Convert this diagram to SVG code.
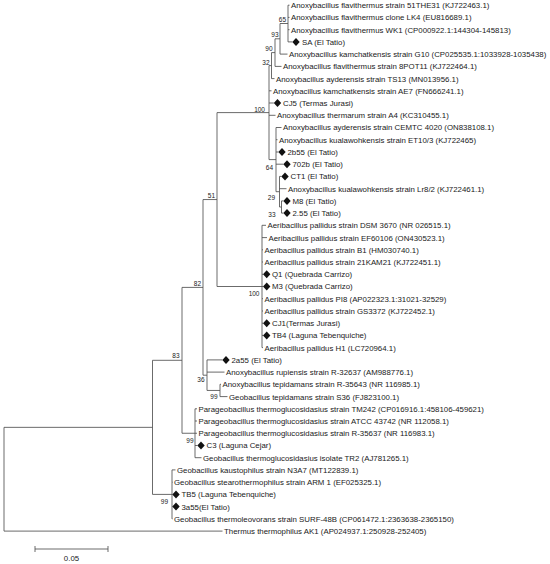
<svg xmlns="http://www.w3.org/2000/svg" width="550" height="564" viewBox="0 0 550 564">
<style>
text{font-family:"Liberation Sans",Arial,sans-serif;fill:#1a1a1a}
.t{font-size:7.85px}
.b{font-size:6.5px;text-anchor:end}
.br{fill:none;stroke:#505050;stroke-width:0.85}
.d{fill:#111}
</style>
<defs><path id="dm" d="M0,-4 L3.7,0 L0,4 L-3.7,0 Z"/></defs>
<rect width="550" height="564" fill="#fff"/>
<g id="branches" class="br">
<path d="M4,427.35V531.1M4,427.35H152.5M4,531.1H222.5"/>
<path d="M152.5,360.3V494.4M152.5,360.3H182M152.5,494.4H172"/>
<path d="M172,469.9V518.9M172,469.9H175.5M172,482.2H172.5M172,494.4H172.3M172,506.6H172.3M172,518.9H172.5"/>
<path d="M182,287.4V433.25M182,287.4H203M182,433.25H195"/>
<path d="M195,408.8V457.7M195,408.8H197M195,421H197M195,433.25H197M195,445.5H197.3M195,457.7H201.5"/>
<path d="M203,199.55V375.2M203,199.55H217M203,375.2H207"/>
<path d="M207,359.9V390.45M207,359.9H222.3M207,372.1H224.5M207,390.45H220"/>
<path d="M220,384.3V396.6M220,384.3H221M220,396.6H227.5"/>
<path d="M217,112.6V286.5M217,112.6H269M217,286.5H262"/>
<path d="M262,225.3V347.6M262,225.3H266M262,237.6H267M262,249.8H263M262,262H263M262,274.3H263M262,286.5H263M262,298.7H263M262,311H263M262,323.2H263M262,335.4H263M262,347.6H263"/>
<path d="M269,65.6V159.6M269,65.6H271.5M269,90.8H271.5M269,103H273.8M269,115.3H275.5M269,159.6H276"/>
<path d="M271.5,52.6V78.6M271.5,52.6H275M271.5,78.6H274.5"/>
<path d="M275,38.8V66.4M275,38.8H280M275,66.4H281.5"/>
<path d="M280,23.5V54.1M280,23.5H288M280,54.1H287.5"/>
<path d="M288,5.2V41.9M288,5.2H289.5M288,17.4H289.5M288,29.7H289.5M288,41.9H292.3"/>
<path d="M276,127.5V191.7M276,127.5H281.5M276,139.7H277.5M276,152H278.3M276,164.2H283.3M276,191.7H279.5"/>
<path d="M279.5,176.4V207M279.5,176.4H281.3M279.5,188.7H286.5M279.5,207H281.5"/>
<path d="M281.5,200.9V213.1M281.5,200.9H283.3M281.5,213.1H283.3"/>
</g>
<g id="bootstrap">
<text class="b" x="286" y="22.3">65</text>
<text class="b" x="278.5" y="37.3">93</text>
<text class="b" x="272.5" y="51">90</text>
<text class="b" x="269.5" y="65">32</text>
<text class="b" x="265" y="112">100</text>
<text class="b" x="273" y="170">64</text>
<text class="b" x="275" y="200">29</text>
<text class="b" x="275.5" y="216.5">33</text>
<text class="b" x="215" y="198">51</text>
<text class="b" x="201" y="285.5">82</text>
<text class="b" x="259.5" y="296">100</text>
<text class="b" x="179.5" y="358.3">83</text>
<text class="b" x="204.5" y="382">36</text>
<text class="b" x="217.5" y="399">99</text>
<text class="b" x="193.5" y="443.3">99</text>
<text class="b" x="168" y="503.5">99</text>
</g>
<g id="leaf-51THE31"><text class="t" x="291" y="8.1">Anoxybacillus flavithermus strain 51THE31 (KJ722463.1)</text></g>
<g id="leaf-LK4"><text class="t" x="291" y="20.3">Anoxybacillus flavithermus clone LK4 (EU816689.1)</text></g>
<g id="leaf-WK1"><text class="t" x="291" y="32.6">Anoxybacillus flavithermus WK1 (CP000922.1:144304-145813)</text></g>
<g id="leaf-SA"><use href="#dm" class="d" x="296" y="41.9"/><text class="t" x="302" y="44.8">SA (El Tatio)</text></g>
<g id="leaf-G10"><text class="t" x="289" y="57">Anoxybacillus kamchatkensis strain G10 (CP025535.1:1033928-1035438)</text></g>
<g id="leaf-8POT11"><text class="t" x="283" y="69.3">Anoxybacillus flavithermus strain 8POT11 (KJ722464.1)</text></g>
<g id="leaf-TS13"><text class="t" x="276" y="81.5">Anoxybacillus ayderensis strain TS13 (MN013956.1)</text></g>
<g id="leaf-AE7"><text class="t" x="273" y="93.7">Anoxybacillus kamchatkensis strain AE7 (FN666241.1)</text></g>
<g id="leaf-CJ5"><use href="#dm" class="d" x="277.5" y="103"/><text class="t" x="283" y="105.9">CJ5 (Termas Jurasi)</text></g>
<g id="leaf-A4"><text class="t" x="277" y="118.2">Anoxybacillus thermarum strain A4 (KC310455.1)</text></g>
<g id="leaf-CEMTC4020"><text class="t" x="283" y="130.4">Anoxybacillus ayderensis strain CEMTC 4020 (ON838108.1)</text></g>
<g id="leaf-ET10-3"><text class="t" x="279" y="142.6">Anoxybacillus kualawohkensis strain ET10/3 (KJ722465)</text></g>
<g id="leaf-2b55"><use href="#dm" class="d" x="282" y="152"/><text class="t" x="287.5" y="154.9">2b55 (El Tatio)</text></g>
<g id="leaf-702b"><use href="#dm" class="d" x="287" y="164.2"/><text class="t" x="292.5" y="167.1">702b (El Tatio)</text></g>
<g id="leaf-CT1"><use href="#dm" class="d" x="285" y="176.4"/><text class="t" x="290.5" y="179.3">CT1 (El Tatio)</text></g>
<g id="leaf-Lr8-2"><text class="t" x="288" y="191.6">Anoxybacillus kualawohkensis strain Lr8/2 (KJ722461.1)</text></g>
<g id="leaf-M8"><use href="#dm" class="d" x="287" y="200.9"/><text class="t" x="292.5" y="203.8">M8 (El Tatio)</text></g>
<g id="leaf-2.55"><use href="#dm" class="d" x="287" y="213.1"/><text class="t" x="292.5" y="216">2.55 (El Tatio)</text></g>
<g id="leaf-DSM3670"><text class="t" x="267.5" y="228.2">Aeribacillus pallidus strain DSM 3670 (NR 026515.1)</text></g>
<g id="leaf-EF60106"><text class="t" x="268.5" y="240.5">Aeribacillus pallidus strain EF60106 (ON430523.1)</text></g>
<g id="leaf-B1"><text class="t" x="264.5" y="252.7">Aeribacillus pallidus strain B1 (HM030740.1)</text></g>
<g id="leaf-21KAM21"><text class="t" x="264.5" y="264.9">Aeribacillus pallidus strain 21KAM21 (KJ722451.1)</text></g>
<g id="leaf-Q1"><use href="#dm" class="d" x="266.7" y="274.3"/><text class="t" x="272" y="277.2">Q1 (Quebrada Carrizo)</text></g>
<g id="leaf-M3"><use href="#dm" class="d" x="266.7" y="286.5"/><text class="t" x="272" y="289.4">M3 (Quebrada Carrizo)</text></g>
<g id="leaf-PI8"><text class="t" x="264.5" y="301.6">Aeribacillus pallidus PI8 (AP022323.1:31021-32529)</text></g>
<g id="leaf-GS3372"><text class="t" x="264.5" y="313.9">Aeribacillus pallidus strain GS3372 (KJ722452.1)</text></g>
<g id="leaf-CJ1"><use href="#dm" class="d" x="266.7" y="323.2"/><text class="t" x="272" y="326.1">CJ1(Termas Jurasi)</text></g>
<g id="leaf-TB4"><use href="#dm" class="d" x="266.7" y="335.4"/><text class="t" x="272" y="338.3">TB4 (Laguna Tebenquiche)</text></g>
<g id="leaf-H1"><text class="t" x="264.5" y="350.5">Aeribacillus pallidus H1 (LC720964.1)</text></g>
<g id="leaf-2a55"><use href="#dm" class="d" x="226" y="359.9"/><text class="t" x="231.5" y="362.8">2a55 (El Tatio)</text></g>
<g id="leaf-R-32637"><text class="t" x="226" y="375">Anoxybacillus rupiensis strain R-32637 (AM988776.1)</text></g>
<g id="leaf-R-35643"><text class="t" x="222.5" y="387.2">Anoxybacillus tepidamans strain R-35643 (NR 116985.1)</text></g>
<g id="leaf-S36"><text class="t" x="229" y="399.5">Geobacillus tepidamans strain S36 (FJ823100.1)</text></g>
<g id="leaf-TM242"><text class="t" x="198.5" y="411.7">Parageobacillus thermoglucosidasius strain TM242 (CP016916.1:458106-459621)</text></g>
<g id="leaf-ATCC43742"><text class="t" x="198.5" y="423.9">Parageobacillus thermoglucosidasius strain ATCC 43742 (NR 112058.1)</text></g>
<g id="leaf-R-35637"><text class="t" x="198.5" y="436.2">Parageobacillus thermoglucosidasius strain R-35637 (NR 116983.1)</text></g>
<g id="leaf-C3"><use href="#dm" class="d" x="201" y="445.5"/><text class="t" x="206.5" y="448.4">C3 (Laguna Cejar)</text></g>
<g id="leaf-TR2"><text class="t" x="203" y="460.6">Geobacillus thermoglucosidasius isolate TR2 (AJ781265.1)</text></g>
<g id="leaf-N3A7"><text class="t" x="177" y="472.8">Geobacillus kaustophilus strain N3A7 (MT122839.1)</text></g>
<g id="leaf-ARM1"><text class="t" x="174" y="485.1">Geobacillus stearothermophilus strain ARM 1 (EF025325.1)</text></g>
<g id="leaf-TB5"><use href="#dm" class="d" x="176" y="494.4"/><text class="t" x="181.5" y="497.3">TB5 (Laguna Tebenquiche)</text></g>
<g id="leaf-3a55"><use href="#dm" class="d" x="176" y="506.6"/><text class="t" x="181.5" y="509.5">3a55(El Tatio)</text></g>
<g id="leaf-SURF-48B"><text class="t" x="174" y="521.8">Geobacillus thermoleovorans strain SURF-48B (CP061472.1:2363638-2365150)</text></g>
<g id="leaf-Thermus"><text class="t" x="224" y="534">Thermus thermophilus AK1 (AP024937.1:250928-252405)</text></g>
<g id="scale-bar">
<path class="br" d="M35,549H108M35,546V552M108,546V552"/>
<text class="t" x="71.5" y="561" text-anchor="middle">0.05</text>
</g>
</svg>
